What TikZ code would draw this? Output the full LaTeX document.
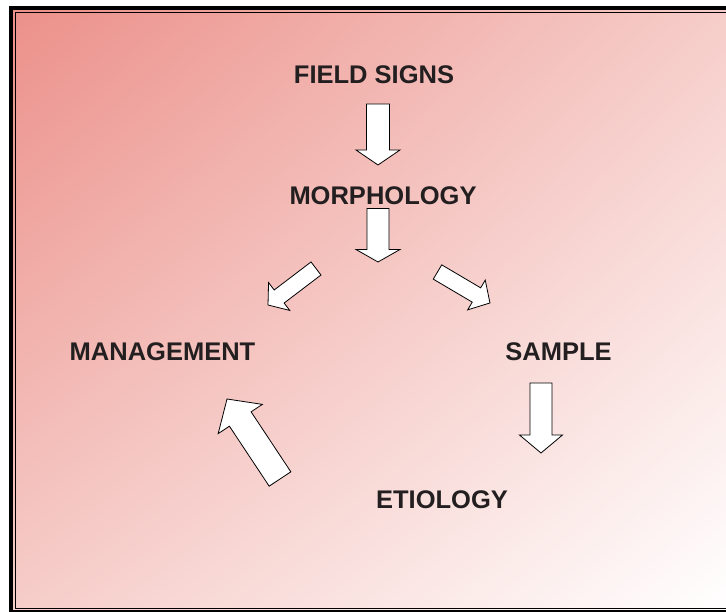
\documentclass[tikz,border=0pt]{standalone}
\usepackage{fontspec}
\setmainfont{Liberation Sans}
\newcommand*{\termfont}{\bfseries\fontsize{25.5}{30}\selectfont}
\definecolor{S}{RGB}{236,144,138}
\definecolor{M}{RGB}{246,205,201}
\definecolor{ink}{RGB}{35,31,32}
\usetikzlibrary{calc}
\usetikzlibrary{shadings}
\tikzstyle{base}=[x=1pt, y=1pt, inner sep=0pt, outer sep=0pt]
\tikzstyle{term}=[text=ink, font=\termfont]
\tikzstyle{hollow}=[draw=black, fill=white, line width=0.8pt, line join=miter]
% tail, tip, shaft half width, head half width, head length
\newcommand*{\blockarrow}[5]{%
    \draw [hollow] let \p1=(#1), \p2=(#2),
        \n1={atan2(\y2-\y1,\x2-\x1)}, \n2={veclen(\x2-\x1,\y2-\y1)} in
        [shift={(\p1)}, rotate=\n1]
        (0,-#3) -- (\n2-#5,-#3) -- (\n2-#5,-#4) -- (\n2,0)
        -- (\n2-#5,#4) -- (\n2-#5,#3) -- (0,#3) -- cycle;}

\begin{document}
\begin{tikzpicture}[base]
    \clip (0,0) rectangle (726,612);
    \shade [upper left=S, upper right=M, lower left=M, lower right=white]
        (11,0) rectangle (726,604);
    \draw [black, line width=4pt] (11,0) rectangle (745,604);
    \draw [black, line width=1.1pt] (15.5,3.5) rectangle (740,599.5);

    \node [term] (field) at (374,537.5) {FIELD SIGNS};
    \node [term] (morph) at (383,416.5) {MORPHOLOGY};
    \node [term] (manage) at (162.5,260) {MANAGEMENT};
    \node [term] (sample) at (558.5,260) {SAMPLE};
    \node [term] (etio) at (442,112.5) {ETIOLOGY};

    \coordinate (fm1) at (378,508);   \coordinate (fm2) at (378,447);
    \coordinate (mm1) at (378,403.5); \coordinate (mm2) at (378,350);
    \coordinate (ml1) at (316,343.5); \coordinate (ml2) at (268,307);
    \coordinate (mr1) at (437.5,340); \coordinate (mr2) at (490,309);
    \coordinate (se1) at (541,229);   \coordinate (se2) at (541,159);
    \coordinate (em1) at (280,133);   \coordinate (em2) at (227,213);

    \blockarrow{fm1}{fm2}{11.5}{22}{15}
    \blockarrow{mm1}{mm2}{11}{22}{12.5}
    \blockarrow{ml1}{ml2}{8.2}{17.5}{14}
    \blockarrow{mr1}{mr2}{8.3}{17.3}{15.7}
    \blockarrow{se1}{se2}{11}{21.5}{18}
    \blockarrow{em1}{em2}{13}{26.5}{24}
\end{tikzpicture}
\end{document}
